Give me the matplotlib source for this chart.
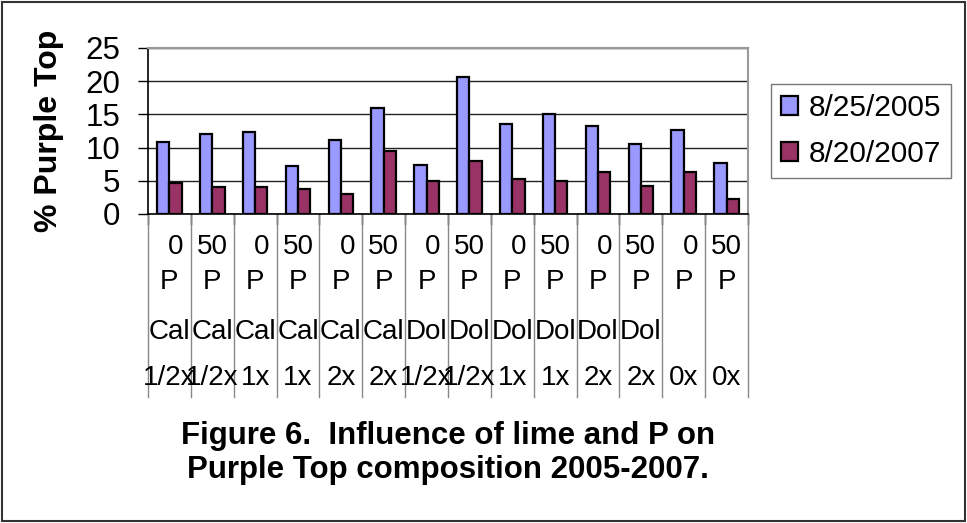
import matplotlib.pyplot as plt
import matplotlib.transforms as mtransforms
from matplotlib.patches import Rectangle
import numpy as np

plt.rcParams['font.family'] = ['Liberation Sans', 'DejaVu Sans']

# category labels (4 rows, Excel-style wrapped text)
p_rate = ["0", "50", "0", "50", "0", "50", "0", "50", "0", "50", "0", "50", "0", "50"]
p_unit = ["P"] * 14
lime = ["Cal"] * 6 + ["Dol"] * 6 + ["", ""]
lime_rate = ["1/2x", "1/2x", "1x", "1x", "2x", "2x",
             "1/2x", "1/2x", "1x", "1x", "2x", "2x", "0x", "0x"]

series_names = ["8/25/2005", "8/20/2007"]
vals_2005 = [10.8, 12.0, 12.3, 7.2, 11.1, 15.9, 7.4, 20.7, 13.5, 15.0, 13.2, 10.5, 12.6, 7.7]
vals_2007 = [4.7, 4.1, 4.1, 3.8, 3.0, 9.5, 5.0, 8.0, 5.3, 5.0, 6.3, 4.2, 6.3, 2.3]
colors = ["#9999FF", "#993366"]

fig = plt.figure(figsize=(9.67, 5.23), dpi=100)
ax = fig.add_axes([148/967, 1-214/523, 600/967, 166/523])

n = len(vals_2005)
x = np.arange(n)
w = 1/3.5  # excel gap width 150%
ax.bar(x - w/2, vals_2005, w, color=colors[0], edgecolor='black', linewidth=1.6, label=series_names[0], zorder=3)
ax.bar(x + w/2, vals_2007, w, color=colors[1], edgecolor='black', linewidth=1.6, label=series_names[1], zorder=3)

ax.set_xlim(-0.5, n - 0.5)
ax.set_ylim(0, 25)
ax.set_yticks([0, 5, 10, 15, 20, 25])
ax.tick_params(axis='y', labelsize=22.5, length=7, width=1, pad=13, direction='out')
ax.set_xticks([])
ax.yaxis.grid(True, color='#222222', linewidth=1)
ax.set_axisbelow(True)
for s in ['top', 'right']:
    ax.spines[s].set_color('#999999')
    ax.spines[s].set_linewidth(1.5)
ax.spines['left'].set_linewidth(1.2)
ax.spines['bottom'].set_linewidth(1.2)

ax.set_ylabel('% Purple Top', fontsize=23, fontweight='bold')
ax.yaxis.set_label_coords(-0.14, 0.5)

# category separators below the axis
trans = mtransforms.blended_transform_factory(ax.transData, ax.transAxes)
for k in range(n + 1):
    ax.plot([k - 0.5, k - 0.5], [0, -0.06], color='black', linewidth=1, transform=trans, clip_on=False)
    ax.plot([k - 0.5, k - 0.5], [0, -1.1], color='#888888', linewidth=1, transform=trans, clip_on=False)

rows = [p_rate, p_unit, lime, lime_rate]
row_y = [-0.199, -0.41, -0.711, -0.988]
for labels, yy in zip(rows, row_y):
    for i, lab in enumerate(labels):
        dx = 0.15 if lab == "0" else 0
        ax.text(i + dx, yy, lab, transform=trans, ha='center', va='center', fontsize=20)

fig.legend(loc='center left', bbox_to_anchor=(771/967, 1-131/523), fontsize=21.5,
           frameon=True, fancybox=False, edgecolor='#777777', framealpha=1,
           handlelength=0.6, handleheight=0.6, handletextpad=0.35, labelspacing=0.62,
           borderpad=0.32, borderaxespad=0)

fig.text(448/967, 1-453/523, 'Figure 6.  Influence of lime and P on\nPurple Top composition 2005-2007.',
         ha='center', va='center', fontsize=22.5, fontweight='bold', linespacing=1.2)

fig.patches.append(Rectangle((0.002, 0.003), 0.996, 0.994, transform=fig.transFigure,
                             fill=False, edgecolor='#333333', linewidth=1.5))

fig.savefig('out.png', dpi=100)
